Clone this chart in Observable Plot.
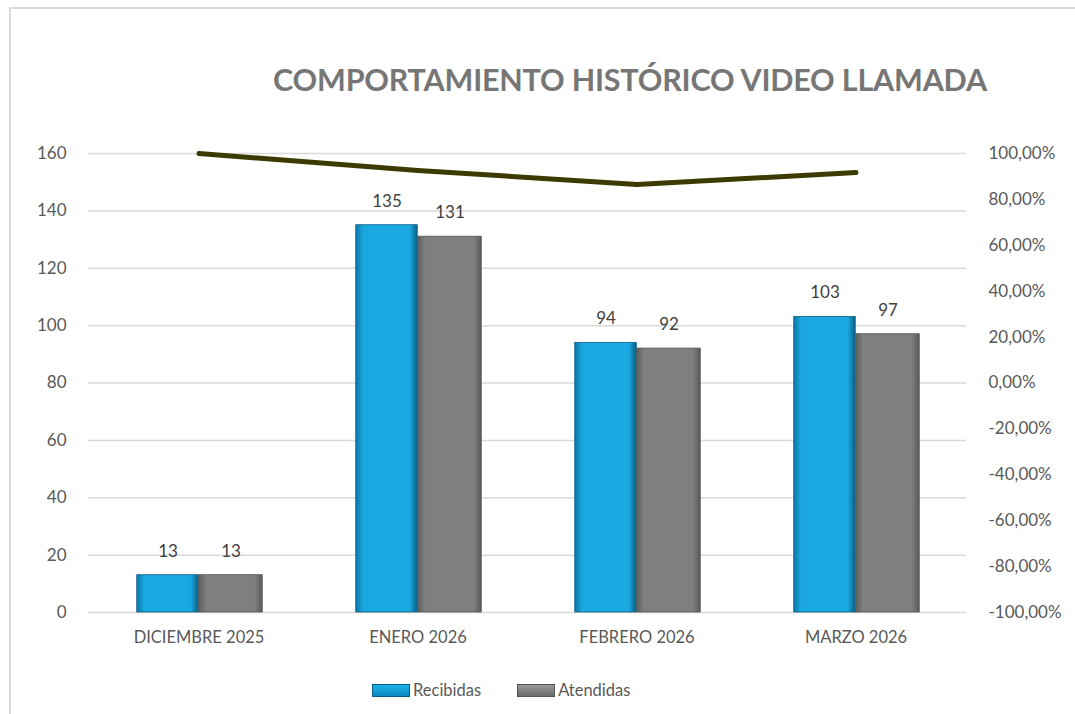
<!DOCTYPE html>
<html><head><meta charset="utf-8">
<script src="https://cdn.jsdelivr.net/npm/d3@7"></script>
<script src="https://cdn.jsdelivr.net/npm/@observablehq/plot@0.6"></script>
<style>
html,body{margin:0;padding:0;background:#fff;}
body{width:1075px;height:714px;position:relative;overflow:hidden;font-family:Lato,"Noto Sans",sans-serif;}
#frame{position:absolute;left:9px;top:7px;width:1080px;height:720px;border:2px solid #d9d9d9;box-sizing:border-box;}
#title{position:absolute;left:0;top:61px;width:1260px;text-align:center;font-weight:bold;font-size:30.5px;color:#767676;letter-spacing:-0.2px;white-space:nowrap;}
#chart{position:absolute;left:0;top:120px;}
#legend{position:absolute;top:680px;left:372px;font-size:16.5px;color:#595959;display:flex;align-items:center;}
.sw{display:inline-block;width:36px;height:11px;margin-right:3px;}
.item{display:flex;align-items:center;margin-right:36px;}
</style></head>
<body>
<div id="frame"></div>
<div id="title">COMPORTAMIENTO HISTÓRICO VIDEO LLAMADA</div>
<div id="chart"></div>
<div id="legend">
  <div class="item"><span class="sw" style="background:linear-gradient(#1cb4ec,#0a86bf);border:1px solid #0b5f86"></span>Recibidas</div>
  <div class="item"><span class="sw" style="background:linear-gradient(#9a9a9a,#6a6a6a);border:1px solid #555"></span>Atendidas</div>
</div>
<script>
const months = ["DICIEMBRE 2025", "ENERO 2026", "FEBRERO 2026", "MARZO 2026"];
const recibidas = [13, 135, 94, 103];
const atendidas = [13, 131, 92, 97];
const porcentaje = [100, 92.6, 86.5, 91.7]; // % (eje derecho)
const leftTicks = [0, 20, 40, 60, 80, 100, 120, 140, 160];
const rightTicks = [-100, -80, -60, -40, -20, 0, 20, 40, 60, 80, 100];

const W = 1075, H = 540, ML = 88, MR = 109;
const band = (W - ML - MR) / months.length;
const barW = 62;

// right axis maps -100%..100% onto 0..160 of the left scale
const toLeft = p => (p + 100) / 200 * 160;

const rec = months.map((m, i) => ({month: m, value: recibidas[i]}));
const ate = months.map((m, i) => ({month: m, value: atendidas[i]}));
const pct = months.map((m, i) => ({month: m, value: toLeft(porcentaje[i])}));

const fmtPct = v => (v / 0.8 - 100).toFixed(2).replace(".", ",") + "%";

const chart = Plot.plot({
  width: W, height: H,
  marginLeft: ML, marginRight: MR, marginTop: 33, marginBottom: 48,
  style: {fontFamily: "Lato, 'Noto Sans', sans-serif", color: "#595959", background: "transparent"},
  x: {type: "band", domain: months, padding: 0, label: null},
  y: {domain: [0, 160], label: null},
  marks: [
    Plot.ruleY(leftTicks, {stroke: "#d9d9d9", strokeWidth: 1.5}),
    Plot.barY(rec, {x: "month", y: "value", fill: "url(#gBlue)", stroke: "#0b5f86", strokeWidth: 0.8,
      insetLeft: band / 2 - barW, insetRight: band / 2}),
    Plot.barY(ate, {x: "month", y: "value", fill: "url(#gGray)", stroke: "#555", strokeWidth: 0.8,
      insetLeft: band / 2, insetRight: band / 2 - barW - 2}),
    Plot.text(rec, {x: "month", y: "value", text: d => String(d.value), dx: -barW / 2, dy: -24, fontSize: 17, fill: "#404040"}),
    Plot.text(ate, {x: "month", y: "value", text: d => String(d.value), dx: barW / 2 + 1, dy: -24, fontSize: 17, fill: "#404040"}),
    Plot.lineY(pct, {x: "month", y: "value", stroke: "#3b3b00", strokeWidth: 5, strokeLinecap: "round", strokeLinejoin: "round"}),
    Plot.axisY(leftTicks, {anchor: "left", tickSize: 0, tickPadding: 22, fontSize: 17, label: null}),
    Plot.axisY(rightTicks.map(toLeft), {anchor: "right", tickSize: 0, tickPadding: 22, fontSize: 17, label: null, tickFormat: fmtPct}),
    Plot.axisX({tickSize: 0, tickPadding: 19, fontSize: 16.5, label: null})
  ]
});

// gradients for the bevelled bar look
const defs = d3.select(chart).insert("defs", ":first-child");
const gb = defs.append("linearGradient").attr("id", "gBlue").attr("x1", 0).attr("x2", 1).attr("y1", 0).attr("y2", 0);
gb.append("stop").attr("offset", "0%").attr("stop-color", "#0b76a8");
gb.append("stop").attr("offset", "12%").attr("stop-color", "#1aa8e0");
gb.append("stop").attr("offset", "88%").attr("stop-color", "#1aa8e0");
gb.append("stop").attr("offset", "100%").attr("stop-color", "#0a5e85");
const gg = defs.append("linearGradient").attr("id", "gGray").attr("x1", 0).attr("x2", 1).attr("y1", 0).attr("y2", 0);
gg.append("stop").attr("offset", "0%").attr("stop-color", "#5e5e5e");
gg.append("stop").attr("offset", "12%").attr("stop-color", "#7f7f7f");
gg.append("stop").attr("offset", "88%").attr("stop-color", "#7f7f7f");
gg.append("stop").attr("offset", "100%").attr("stop-color", "#5a5a5a");

document.getElementById("chart").appendChild(chart);
</script>
</body></html>
